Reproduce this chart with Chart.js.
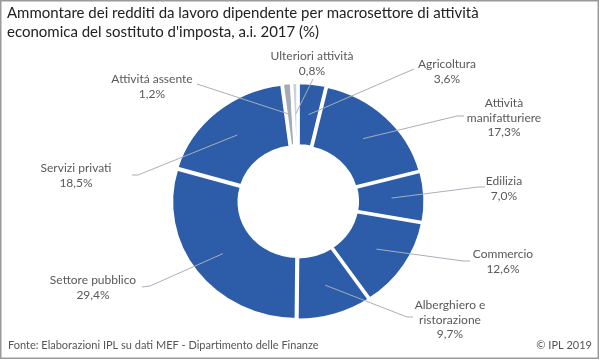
<!DOCTYPE html>
<html>
<head>
<meta charset="utf-8">
<script src="https://cdn.jsdelivr.net/npm/chart.js@4"></script>
<style>
  body { margin: 0; background: #fff; }
  #box { width: 600px; height: 360px; }
</style>
</head>
<body>
<div id="box"><canvas id="chart" width="600" height="360"></canvas></div>
<script>
// dati del grafico (%)
const categorie = ["Agricoltura", "Attività manifatturiere", "Edilizia", "Commercio",
  "Alberghiero e ristorazione", "Settore pubblico", "Servizi privati",
  "Attivitá assente", "Ulteriori attività"];
const valori = [3.6, 17.3, 7.0, 12.6, 9.7, 29.4, 18.5, 1.2, 0.8];
// testo delle etichette, riga per riga
const righeEtichette = [["Agricoltura"], ["Attività", "manifatturiere"], ["Edilizia"], ["Commercio"],
  ["Alberghiero e", "ristorazione"], ["Settore pubblico"], ["Servizi privati"],
  ["Attivitá assente"], ["Ulteriori attività"]];
const colori = ["#2d5da9", "#2d5da9", "#2d5da9", "#2d5da9", "#2d5da9", "#2d5da9", "#2d5da9", "#a3abb4", "#cbd1d8"];

const titolo = ["Ammontare dei redditi da lavoro dipendente per macrosettore di attività",
  "economica del sostituto d'imposta, a.i. 2017 (%)"];
const fonte = "Fonte: Elaborazioni IPL su dati MEF - Dipartimento delle Finanze";
const copyright = "© IPL 2019";

// posizione delle etichette (centro testo, y prima riga) e punti della linea guida
const layoutEtichette = [
  { x: 447, y: 64, line: [[414, 69]] },
  { x: 504, y: 103, line: [[457, 116], [464, 116]] },
  { x: 504, y: 181, line: [[478, 187], [485, 187]] },
  { x: 503, y: 254, line: [[463, 261], [470, 261]] },
  { x: 450, y: 305, line: [[407, 317], [413, 317]] },
  { x: 93, y: 280, line: [[150, 286], [142, 287]] },
  { x: 76, y: 168, line: [[138, 175], [132, 175]] },
  { x: 152, y: 79, line: [[197, 84]] },
  { x: 312, y: 56, line: [[313, 79]] }
];

const SX = 1.07; // la ciambella originale è leggermente schiacciata
const FONT = "Lato, 'Liberation Sans', sans-serif";

function fmt(v) {
  return v.toFixed(1).replace(".", ",") + "%";
}

const decorazioni = {
  id: "decorazioni",
  beforeDatasetsDraw(chart) {
    const arc = chart.getDatasetMeta(0).data[0];
    const ctx = chart.ctx;
    ctx.save();
    ctx.translate(arc.x, 0);
    ctx.scale(SX, 1);
    ctx.translate(-arc.x, 0);
  },
  afterDatasetsDraw(chart) {
    chart.ctx.restore();
  },
  afterDraw(chart) {
    const ctx = chart.ctx;
    const meta = chart.getDatasetMeta(0);

    // cornice
    ctx.save();
    ctx.strokeStyle = "#9a9a9a";
    ctx.lineWidth = 1.5;
    ctx.strokeRect(0.75, 0.75, 597.5, 357.5);

    // titolo
    ctx.fillStyle = "#222";
    ctx.font = "15px " + FONT;
    ctx.textAlign = "left";
    ctx.textBaseline = "middle";
    titolo.forEach((t, i) => ctx.fillText(t, 7, 13 + i * 19.5));

    // fonte
    ctx.fillStyle = "#555";
    ctx.font = "11px " + FONT;
    ctx.fillText(fonte, 8, 345);
    ctx.textAlign = "right";
    ctx.fillText(copyright, 592, 345);

    // linee guida
    ctx.strokeStyle = "#a7afb8";
    ctx.lineWidth = 1;
    meta.data.forEach((el, i) => {
      const p = el.tooltipPosition();
      const cx = el.x;
      ctx.beginPath();
      ctx.moveTo(cx + (p.x - cx) * SX, p.y);
      layoutEtichette[i].line.forEach(pt => ctx.lineTo(pt[0], pt[1]));
      ctx.stroke();
    });

    // etichette
    ctx.fillStyle = "#595959";
    ctx.font = "12px " + FONT;
    ctx.textAlign = "center";
    categorie.forEach((c, i) => {
      const pos = layoutEtichette[i];
      const righe = righeEtichette[i].concat([fmt(valori[i])]);
      righe.forEach((r, k) => ctx.fillText(r, pos.x, pos.y + k * 14.7));
    });
    ctx.restore();
  }
};

new Chart(document.getElementById("chart"), {
  type: "doughnut",
  data: {
    labels: categorie,
    datasets: [{
      data: valori,
      backgroundColor: colori,
      borderColor: "#ffffff",
      borderWidth: 3,
      offset: 3,
      hoverOffset: 0
    }]
  },
  options: {
    responsive: false,
    animation: false,
    radius: 117.5,
    cutout: 56.5,
    layout: { padding: { left: 173, right: 177, top: 76.5, bottom: 33.5 } },
    plugins: {
      legend: { display: false },
      tooltip: { enabled: false },
      title: { display: false }
    }
  },
  plugins: [decorazioni]
});
</script>
</body>
</html>
